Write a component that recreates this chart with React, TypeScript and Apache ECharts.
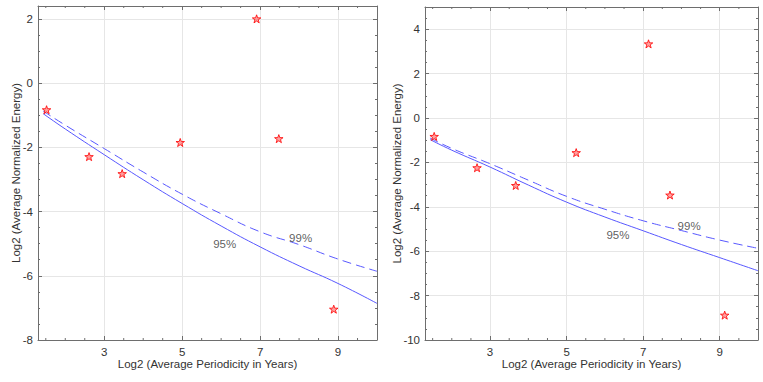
import React, { useEffect, useRef } from "react";
import * as echarts from "echarts";

// ---- data ----
const xMajorTicks = [3, 5, 7, 9];
const xMinorTicks = [1.5, 2, 2.5, 3.5, 4, 4.5, 5.5, 6, 6.5, 7.5, 8, 8.5, 9.5];

const leftPeriod = [1.52, 2.61, 3.46, 4.95, 6.91, 7.48, 8.89];
const leftEnergy = [-0.83, -2.29, -2.82, -1.85, 2.0, -1.73, -7.04];

const rightPeriod = [1.54, 2.66, 3.67, 5.25, 7.14, 7.7, 9.13];
const rightEnergy = [-0.83, -2.24, -3.04, -1.56, 3.34, -3.47, -8.88];

const curvePeriod = [1.43, 2, 3, 4, 5, 6, 7, 8, 9, 10];
const left95 = [-0.95, -1.43, -2.23, -3.01, -3.75, -4.45, -5.1, -5.69, -6.24, -6.86];
const left99 = [-0.87, -1.31, -2.04, -2.77, -3.46, -4.07, -4.63, -5.03, -5.48, -5.86];
const right95 = [-0.97, -1.45, -2.21, -3.02, -3.79, -4.46, -5.08, -5.7, -6.29, -6.88];
const right99 = [-0.9, -1.37, -2.06, -2.8, -3.53, -4.11, -4.63, -5.07, -5.5, -5.87];

const levelNames = ["95%", "99%"];
const leftLevelAnchorX = [6.09, 8.04];
const leftLevelAnchorY = [-5.0, -4.81];
const rightLevelAnchorX = [6.34, 8.2];
const rightLevelAnchorY = [-5.26, -4.88];

const xName = "Log2 (Average Periodicity in Years)";
const yName = "Log2 (Average Normalized Energy)";

// ---- styles ----
const FONT = "'Liberation Sans', Arial, Helvetica, sans-serif";
const AXIS = "#6e6e6e";
const TEXT = "#333333";
const GRID = "#e6e6e6";
const BLUE = "#5858ff";
const FS = 11.5;
const STAR =
  "path://M0,-10L2.35,-3.24L9.51,-3.09L3.8,1.24L5.88,8.09L0,4L-5.88,8.09L-3.8,1.24L-9.51,-3.09L-2.35,-3.24Z";

type Panel = {
  grid: any;
  yMin: number;
  yMax: number;
  yNameGap: number;
  px: number[];
  py: number[];
  c95: number[];
  c99: number[];
  lx: number[];
  ly: number[];
};

function build(panels: Panel[]) {
  const grid: any[] = [];
  const xAxis: any[] = [];
  const yAxis: any[] = [];
  const series: any[] = [];
  panels.forEach((p, i) => {
    grid.push({ ...p.grid, containLabel: false, show: false });
    const xBase = {
      type: "value",
      gridIndex: i,
      min: 1.3,
      max: 10,
      axisLine: { show: true, onZero: false, lineStyle: { color: AXIS, width: 1 } },
      axisTick: {
        show: true,
        inside: true,
        length: 4,
        customValues: xMajorTicks,
        lineStyle: { color: AXIS, width: 1 },
      },
      minorTick: { show: false },
    };
    xAxis.push({
      ...xBase,
      position: "bottom",
      axisLabel: {
        show: true,
        customValues: xMajorTicks,
        margin: 6,
        color: TEXT,
        fontSize: FS,
        fontFamily: FONT,
      },
      splitLine: { show: true, lineStyle: { color: GRID, width: 1 } },
      name: xName,
      nameLocation: "middle",
      nameGap: 18,
      nameMoveOverlap: false,
      nameTextStyle: { color: TEXT, fontSize: FS, fontFamily: FONT },
    });
    xAxis.push({
      ...xBase,
      position: "top",
      axisLabel: { show: false },
      splitLine: { show: false },
    });
    const yBase = {
      type: "value",
      gridIndex: i,
      min: p.yMin,
      max: p.yMax,
      interval: 2,
      axisLine: { show: true, onZero: false, lineStyle: { color: AXIS, width: 1 } },
      axisTick: { show: true, inside: true, length: 4, lineStyle: { color: AXIS, width: 1 } },
      minorTick: { show: true, splitNumber: 4, length: 2, lineStyle: { color: AXIS, width: 1 } },
    };
    yAxis.push({
      ...yBase,
      position: "left",
      axisLabel: {
        show: true,
        margin: 5,
        color: TEXT,
        fontSize: FS,
        fontFamily: FONT,
        showMaxLabel: false,
        showMinLabel: true,
      },
      splitLine: { show: true, lineStyle: { color: GRID, width: 1 } },
      name: yName,
      nameLocation: "middle",
      nameGap: p.yNameGap,
      nameMoveOverlap: false,
      nameTextStyle: { color: TEXT, fontSize: FS, fontFamily: FONT },
    });
    yAxis.push({
      ...yBase,
      position: "right",
      axisLabel: { show: false },
      splitLine: { show: false },
    });
    const xi = i * 2;
    const yi = i * 2;
    series.push({
      type: "custom",
      xAxisIndex: xi,
      yAxisIndex: yi,
      silent: true,
      clip: false,
      encode: { x: 0, y: 1 },
      data: xMinorTicks.map((v) => [v, p.yMin, p.yMax]),
      renderItem: (params: any, api: any) => {
        const v = api.value(0);
        const b = api.coord([v, api.value(1)]);
        const t = api.coord([v, api.value(2)]);
        return {
          type: "group",
          children: [
            {
              type: "line",
              shape: { x1: b[0], y1: b[1], x2: b[0], y2: b[1] - 2 },
              style: { stroke: AXIS, lineWidth: 1 },
            },
            {
              type: "line",
              shape: { x1: t[0], y1: t[1], x2: t[0], y2: t[1] + 2 },
              style: { stroke: AXIS, lineWidth: 1 },
            },
          ],
        };
      },
    });
    series.push({
      type: "line",
      xAxisIndex: xi,
      yAxisIndex: yi,
      data: curvePeriod.map((x, k) => [x, p.c95[k]]),
      smooth: true,
      showSymbol: false,
      silent: true,
      lineStyle: { color: BLUE, width: 1 },
      z: 3,
    });
    series.push({
      type: "line",
      xAxisIndex: xi,
      yAxisIndex: yi,
      data: curvePeriod.map((x, k) => [x, p.c99[k]]),
      smooth: true,
      showSymbol: false,
      silent: true,
      lineStyle: { color: BLUE, width: 1, type: [9, 5] },
      z: 3,
    });
    series.push({
      type: "scatter",
      xAxisIndex: xi,
      yAxisIndex: yi,
      data: p.px.map((x, k) => [x, p.py[k]]),
      symbol: STAR,
      symbolSize: 8.5,
      symbolKeepAspect: true,
      itemStyle: { color: "rgba(255,70,70,0.65)", borderColor: "#ff0000", borderWidth: 1 },
      z: 5,
    });
    series.push({
      type: "scatter",
      xAxisIndex: xi,
      yAxisIndex: yi,
      data: levelNames.map((n, k) => [p.lx[k], p.ly[k], n]),
      symbolSize: 1,
      itemStyle: { color: "rgba(0,0,0,0)" },
      silent: true,
      label: {
        show: true,
        position: "inside",
        formatter: (d: any) => d.data[2],
        color: TEXT,
        fontSize: FS,
        fontFamily: FONT,
      },
      z: 6,
    });
  });
  return { grid, xAxis, yAxis, series };
}

export default function App() {
  const ref = useRef<HTMLDivElement>(null);
  useEffect(() => {
    document.body.style.margin = "0";
    const chart = echarts.init(ref.current!, null, { renderer: "svg" });
    const built = build([
      {
        grid: { left: 38, top: 6, width: 339, height: 334 },
        yMin: -8,
        yMax: 2.4,
        yNameGap: 16.5,
        px: leftPeriod,
        py: leftEnergy,
        c95: left95,
        c99: left99,
        lx: leftLevelAnchorX,
        ly: leftLevelAnchorY,
      },
      {
        grid: { left: 425, top: 7, width: 333, height: 333 },
        yMin: -10,
        yMax: 5,
        yNameGap: 22,
        px: rightPeriod,
        py: rightEnergy,
        c95: right95,
        c99: right99,
        lx: rightLevelAnchorX,
        ly: rightLevelAnchorY,
      },
    ]);
    chart.setOption({
      animation: false,
      backgroundColor: "#ffffff",
      textStyle: { fontFamily: FONT },
      ...built,
    });
    return () => chart.dispose();
  }, []);
  return <div ref={ref} style={{ width: 763, height: 382 }} />;
}
